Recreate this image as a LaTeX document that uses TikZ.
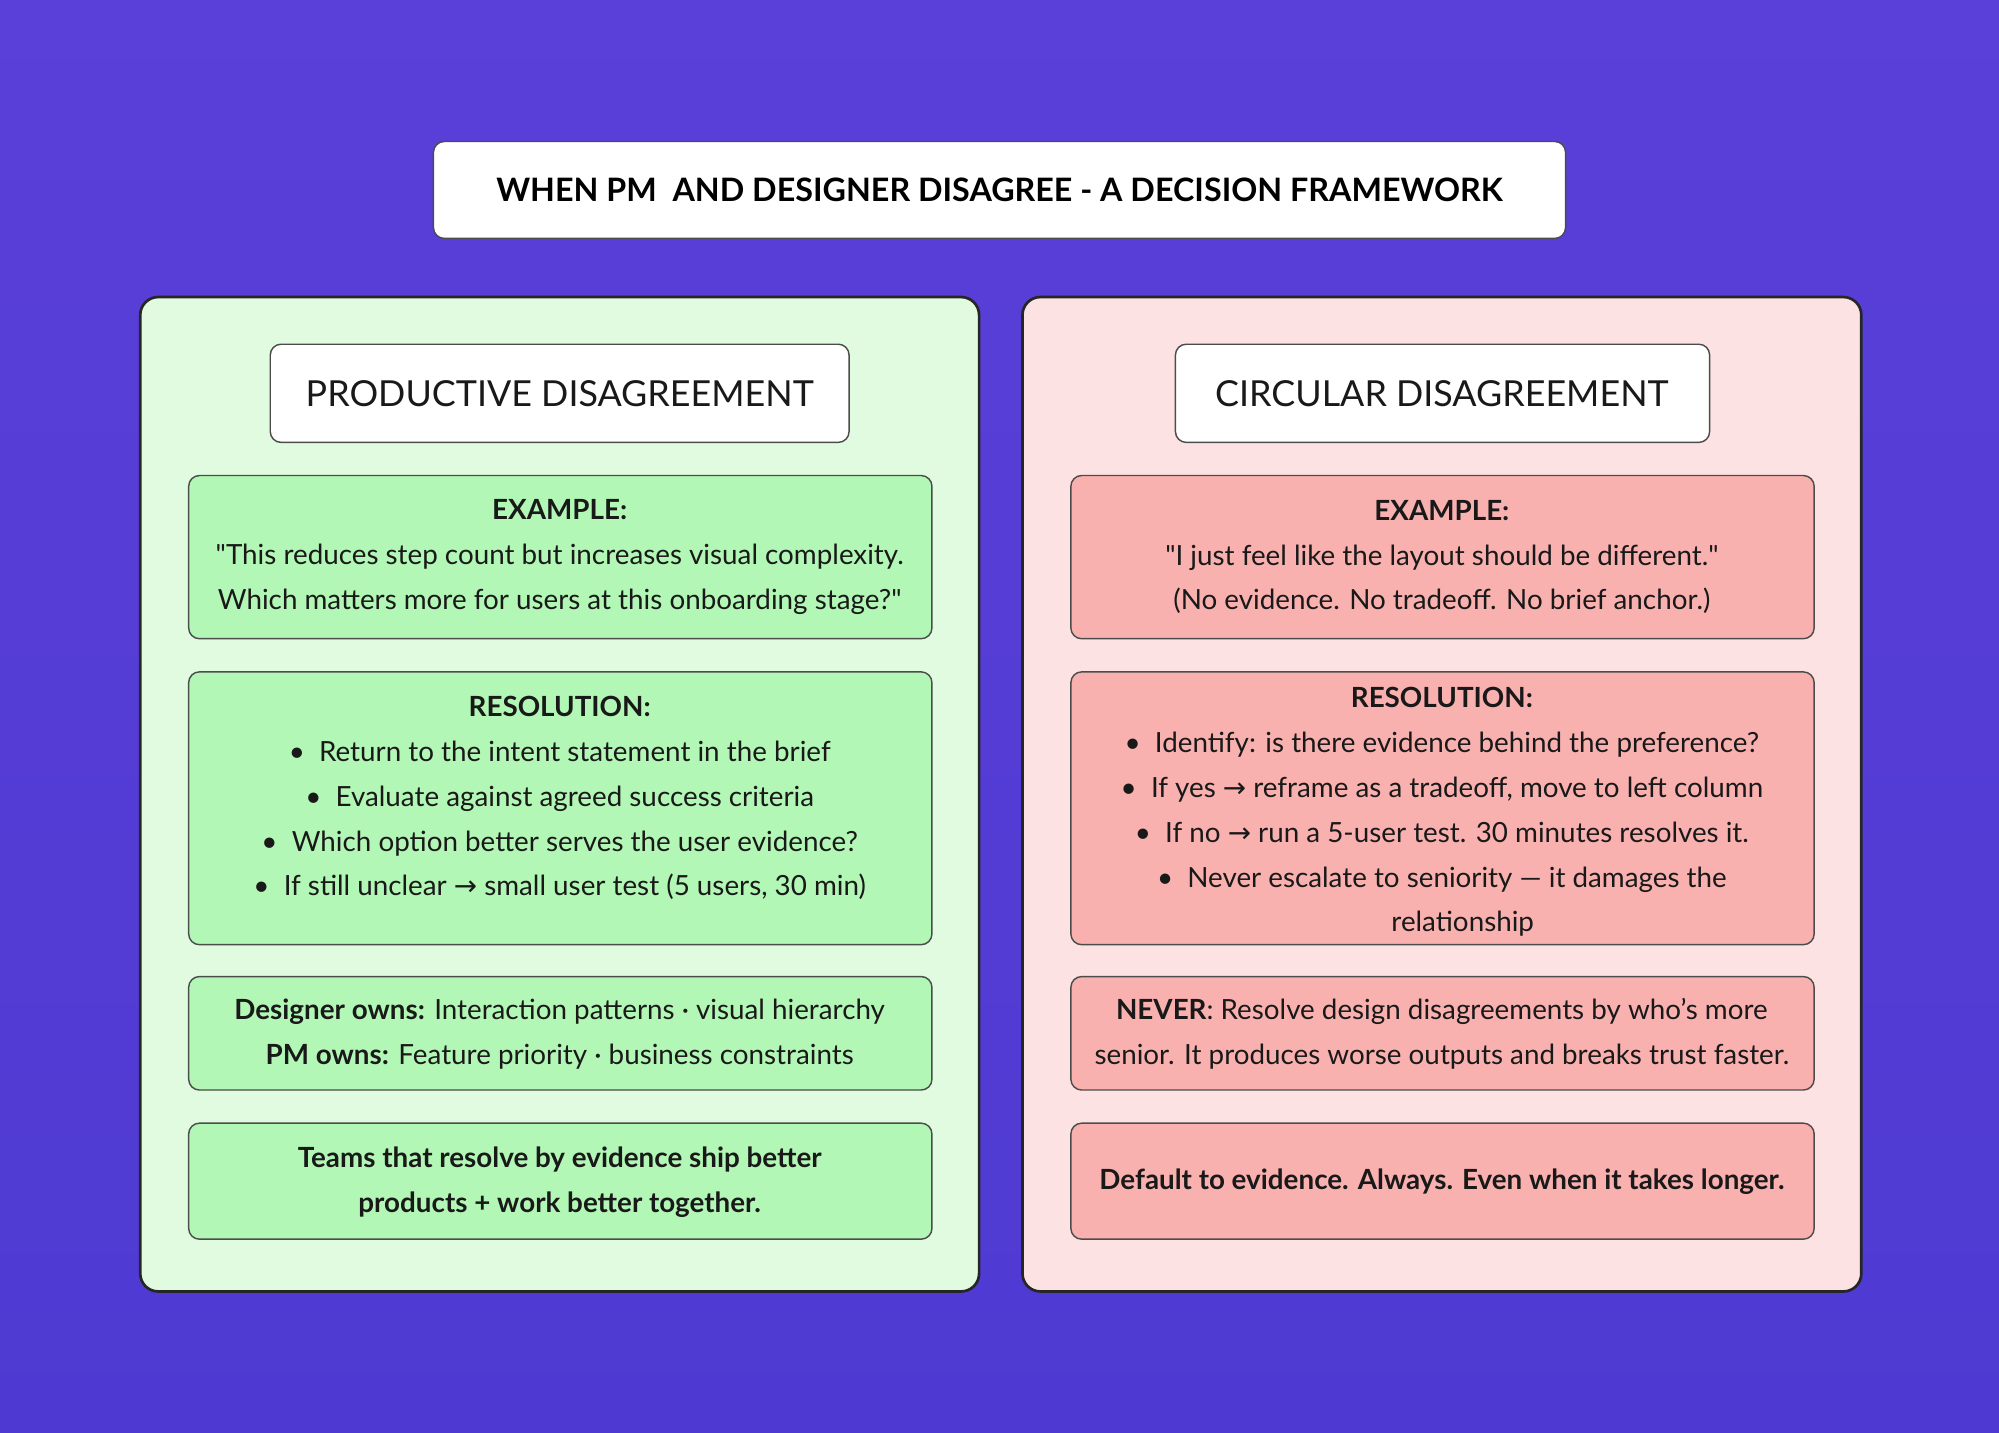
\documentclass[tikz,border=0pt]{standalone}
\usepackage{fontspec}
\setmainfont{Lato}
\newfontfamily\djfont{DejaVu Sans}
\newfontfamily\rawlato{Lato}[Ligatures=TeXOff]
\newcommand{\myar}{{\djfont →}}
\newcommand{\sq}{{\rawlato\symbol{34}}}
\definecolor{bg}{HTML}{4E3AD2}
\definecolor{bgb}{HTML}{5A3FD8}
\definecolor{gpan}{HTML}{E0FBE0}
\definecolor{gbox}{HTML}{B2F7B5}
\definecolor{rpan}{HTML}{FCE2E2}
\definecolor{rbox}{HTML}{F9B1B0}
\tikzset{
 pan/.style={draw=black!85,line width=1.5pt,rounded corners=10pt},
 box/.style={draw=black!70,line width=0.8pt,rounded corners=6pt},
 txt/.style={align=center,font=\fontsize{15.5}{25}\selectfont,text=black!90},
 hd/.style={font=\fontsize{20}{24}\selectfont,text=black!90},
}
\begin{document}
\begin{tikzpicture}[x=0.025cm,y=-0.025cm]
\shade[top color=bgb,bottom color=bg] (0,0) rectangle (1568,1124);
\useasboundingbox (0,0) rectangle (1568,1124);
\node[box,fill=white,minimum width=888*0.025cm,minimum height=76*0.025cm,font=\bfseries\fontsize{18}{20}\selectfont] (title) at (784,149) {WHEN PM\ \ AND DESIGNER DISAGREE - A DECISION FRAMEWORK};
% panels
\draw[pan,fill=gpan] (110,233) rectangle (768,1013);
\draw[pan,fill=rpan] (802,233) rectangle (1460,1013);
\draw[box,fill=white] (212,270) rectangle (666,347);
\node[hd] (lh) at (439,309) {PRODUCTIVE DISAGREEMENT};
\draw[box,fill=white] (922,270) rectangle (1341,347);
\node[hd] (rh) at (1131,309) {CIRCULAR DISAGREEMENT};
% boxes
\foreach \a/\b in {373/501,527/741,766/855,881/972}{
 \draw[box,fill=gbox] (148,\a) rectangle (731,\b);
 \draw[box,fill=rbox] (840,\a) rectangle (1423,\b);}
\node[txt] (le) at (439,437) {\textbf{EXAMPLE:}\\\sq This reduces step count but increases visual complexity.\\Which matters more for users at this onboarding stage?\sq};
\node[txt] (lr) at (439,626) {\textbf{RESOLUTION:}\\• \ Return to the intent statement in the brief\\• \ Evaluate against agreed success criteria\\• \ Which option better serves the user evidence?\\• \ If still unclear \myar\ small user test (5 users, 30 min)};
\node[txt] (lo) at (439,811) {\textbf{Designer owns:} Interaction patterns · visual hierarchy\\\textbf{PM owns:} Feature priority · business constraints};
\node[txt,font=\bfseries\fontsize{15.5}{25}\selectfont] (lf) at (439,927) {Teams that resolve by evidence ship better\\products + work better together.};
\node[txt] (re) at (1131,437) {\textbf{EXAMPLE:}\\\sq I just feel like the layout should be different.\sq\\(No evidence. No tradeoff. No brief anchor.)};
\node[txt] (rr) at (1131,637) {\textbf{RESOLUTION:}\\• \ Identify: is there evidence behind the preference?\\• \ If yes \myar\ reframe as a tradeoff, move to left column\\• \ If no \myar\ run a 5-user test. 30 minutes resolves it.\\• \ Never escalate to seniority — it damages the\\\hspace*{1.5em}relationship};
\node[txt] (ro) at (1131,811) {\textbf{NEVER}: Resolve design disagreements by who’s more\\senior. It produces worse outputs and breaks trust faster.};
\node[txt,font=\bfseries\fontsize{15.5}{25}\selectfont] (rf) at (1131,927) {Default to evidence. Always. Even when it takes longer.};
\end{tikzpicture}
\end{document}
